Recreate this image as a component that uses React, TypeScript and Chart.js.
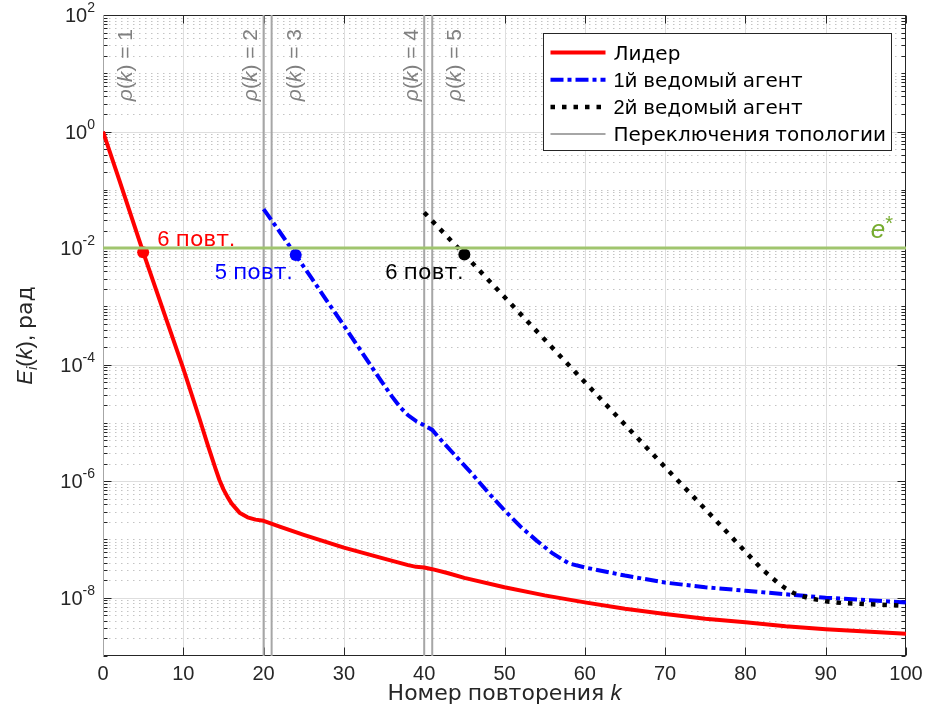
import React, { useEffect, useRef } from "react";
import { Chart, registerables } from "chart.js";

Chart.register(...registerables);

// ---------------- data ----------------
const X_MIN = 0;
const X_MAX = 100;
const Y_MIN = 1e-9;
const Y_MAX = 1e2;
const E_STAR = 1e-2;

const X_TICKS = [0, 10, 20, 30, 40, 50, 60, 70, 80, 90, 100];
const Y_LABEL_EXP = [-8, -6, -4, -2, 0, 2];
const Y_DECADE_EXP = [-9, -8, -7, -6, -5, -4, -3, -2, -1, 0, 1, 2];

// Leader (log10 of E)
const LEADER_K = [0, 2, 5, 8, 10, 12, 13, 14, 14.5, 15, 15.5, 16, 17, 18, 19, 20, 22, 25, 30, 35, 38, 39, 40, 41, 43, 45, 50, 55, 60, 65, 70, 75, 80, 85, 90, 95, 100];
const LEADER_LOG10 = [0, -0.82, -2.07, -3.27, -4.07, -4.92, -5.36, -5.78, -5.98, -6.14, -6.27, -6.38, -6.54, -6.62, -6.66, -6.68, -6.78, -6.92, -7.14, -7.33, -7.44, -7.47, -7.48, -7.51, -7.58, -7.66, -7.82, -7.96, -8.08, -8.19, -8.28, -8.36, -8.42, -8.49, -8.54, -8.58, -8.62];

// 1st follower
const F1_K = [20, 22, 24, 26, 28, 30, 32, 34, 36, 37, 38, 39, 40, 41, 42, 44, 46, 48, 50, 52, 54, 56, 58, 60, 65, 70, 75, 80, 85, 90, 95, 100];
const F1_LOG10 = [-1.33, -1.72, -2.12, -2.52, -2.93, -3.33, -3.74, -4.15, -4.55, -4.73, -4.87, -4.97, -5.04, -5.12, -5.28, -5.58, -5.88, -6.2, -6.5, -6.78, -7.02, -7.24, -7.41, -7.48, -7.62, -7.74, -7.82, -7.88, -7.94, -8.0, -8.04, -8.08];

// 2nd follower
const F2_K = [40, 45, 50, 55, 60, 65, 70, 75, 80, 82, 84, 85, 86, 87, 88, 90, 92, 95, 100];
const F2_LOG10 = [-1.39, -2.11, -2.84, -3.57, -4.3, -5.03, -5.76, -6.48, -7.21, -7.5, -7.74, -7.84, -7.92, -7.97, -8.01, -8.06, -8.09, -8.11, -8.14];

// markers where e* is reached
const MARK_K = [5, 24, 45];
const MARK_LOG10 = [-2.07, -2.12, -2.11];
const MARK_TEXT = ["6 повт.", "5 повт.", "6 повт."];

// topology switches
const SWITCH_K = [0, 20, 21, 40, 41];
const SWITCH_RHO = ["1", "2", "3", "4", "5"];

const SERIES_LABELS = ["Лидер", "1й ведомый агент", "2й ведомый агент", "Переключения топологии"];
const X_TITLE = "Номер повторения";
const Y_TITLE_UNIT = ", рад";

// ---------------- styles ----------------
const LAT = "'Liberation Sans', Arial, Helvetica, sans-serif";
const CYR = "'DejaVu Sans', 'Liberation Sans', sans-serif";
const AX_COLOR = "#262626";
const RED = "#ff0000";
const BLUE = "#0000ff";
const BLACK = "#000000";
const GREEN_LINE = "#a0c56e";
const GREEN_TEXT = "#77ac30";
const SWITCH_LINE = "#a6a6a6";
const SWITCH_TEXT = "#808080";
const SWITCH_SIDE = [1, -1, 1, -1, 1];
const MARK_COLORS = [RED, BLUE, BLACK];

const W = 928;
const H = 719;

type Run = { t: string; font: string; dy?: number };

const isCyr = (s: string) => /[\u0400-\u04FF]/.test(s);
function runsFor(text: string, size: number, style = ""): Run[] {
  return text
    .split(/([\u0400-\u04FF]+)/)
    .filter((s) => s.length > 0)
    .map((s) => ({ t: s, font: `${style} ${size}px ${isCyr(s) ? CYR : LAT}`.trim() }));
}
function runsWidth(ctx: CanvasRenderingContext2D, runs: Run[]) {
  let w = 0;
  for (const r of runs) {
    ctx.font = r.font;
    w += ctx.measureText(r.t).width;
  }
  return w;
}
function drawRuns(ctx: CanvasRenderingContext2D, runs: Run[], x: number, y: number, align: string, color: string) {
  const w = runsWidth(ctx, runs);
  let cx = align === "left" ? x : align === "right" ? x - w : x - w / 2;
  ctx.textAlign = "left";
  ctx.textBaseline = "alphabetic";
  ctx.fillStyle = color;
  for (const r of runs) {
    ctx.font = r.font;
    ctx.fillText(r.t, cx, y + (r.dy || 0));
    cx += ctx.measureText(r.t).width;
  }
}
function hLine(ctx: CanvasRenderingContext2D, x0: number, x1: number, y: number) {
  ctx.beginPath();
  ctx.moveTo(x0, y);
  ctx.lineTo(x1, y);
  ctx.stroke();
}
function vLine(ctx: CanvasRenderingContext2D, x: number, y0: number, y1: number) {
  ctx.beginPath();
  ctx.moveTo(x, y0);
  ctx.lineTo(x, y1);
  ctx.stroke();
}

const toPts = (ks: number[], logs: number[]) => ks.map((k, i) => ({ x: k, y: Math.pow(10, logs[i]) }));

const matlabPlugin = {
  id: "matlabLook",
  beforeDraw(chart: any) {
    const { ctx, width, height } = chart;
    ctx.save();
    ctx.fillStyle = "#ffffff";
    ctx.fillRect(0, 0, width, height);
    ctx.restore();
  },
  beforeDatasetsDraw(chart: any) {
    const { ctx, chartArea: a, scales } = chart;
    const xs = scales.x;
    const ys = scales.y;
    ctx.save();
    ctx.lineWidth = 1;
    // minor grid (dotted)
    ctx.strokeStyle = "#c4c4c4";
    ctx.setLineDash([1.5, 4.5]);
    for (const e of Y_DECADE_EXP) {
      for (let m = 1; m <= 9; m++) {
        if (m === 1 && Y_LABEL_EXP.includes(e)) continue;
        const v = m * Math.pow(10, e);
        if (v <= Y_MIN || v >= Y_MAX) continue;
        const y = Math.round(ys.getPixelForValue(v)) + 0.5;
        hLine(ctx, a.left, a.right, y);
      }
    }
    // major grid
    ctx.setLineDash([]);
    ctx.strokeStyle = "#dedede";
    for (const e of Y_LABEL_EXP) {
      const v = Math.pow(10, e);
      if (v <= Y_MIN || v >= Y_MAX) continue;
      const y = Math.round(ys.getPixelForValue(v)) + 0.5;
      hLine(ctx, a.left, a.right, y);
    }
    for (const t of X_TICKS) {
      if (t <= X_MIN || t >= X_MAX) continue;
      const x = Math.round(xs.getPixelForValue(t)) + 0.5;
      vLine(ctx, x, a.top, a.bottom);
    }
    // axes box
    ctx.strokeStyle = AX_COLOR;
    ctx.strokeRect(Math.round(a.left) + 0.5, Math.round(a.top) + 0.5, Math.round(a.right - a.left) - 1, Math.round(a.bottom - a.top) - 1);
    // ticks
    const L = Math.round(a.left) + 0.5;
    const R = Math.round(a.right) - 0.5;
    const T = Math.round(a.top) + 0.5;
    const B = Math.round(a.bottom) - 0.5;
    for (const e of Y_DECADE_EXP) {
      for (let m = 1; m <= 9; m++) {
        const v = m * Math.pow(10, e);
        if (v < Y_MIN || v > Y_MAX) continue;
        const major = m === 1 && Y_LABEL_EXP.includes(e);
        const len = major ? 8 : 4;
        const y = Math.round(ys.getPixelForValue(v)) + 0.5;
        hLine(ctx, L, L + len, y);
        hLine(ctx, R - len, R, y);
      }
    }
    for (const t of X_TICKS) {
      const x = Math.round(xs.getPixelForValue(t)) + 0.5;
      vLine(ctx, x, B, B - 8);
      vLine(ctx, x, T, T + 8);
    }
    ctx.restore();
  },
  afterDatasetsDraw(chart: any) {
    const { ctx, chartArea: a, scales } = chart;
    const xs = scales.x;
    const ys = scales.y;
    ctx.save();

    // topology switch labels (rotated)
    SWITCH_K.forEach((k, i) => {
      const lx = xs.getPixelForValue(k);
      const bx = SWITCH_SIDE[i] > 0 ? lx + 29 : lx - 6.5;
      const runs: Run[] = [
        { t: "ρ", font: `italic 21px ${LAT}` },
        { t: "(", font: `21px ${LAT}` },
        { t: "k", font: `italic 21px ${LAT}` },
        { t: ") = " + SWITCH_RHO[i], font: `21px ${LAT}` },
      ];
      ctx.save();
      ctx.translate(bx, a.top + 14);
      ctx.rotate(-Math.PI / 2);
      drawRuns(ctx, runs, 0, 0, "right", SWITCH_TEXT);
      ctx.restore();
    });

    // e* label
    const gy = ys.getPixelForValue(E_STAR);
    drawRuns(
      ctx,
      [
        { t: "e", font: `italic 26px ${LAT}` },
        { t: "*", font: `20px ${LAT}`, dy: -8 },
      ],
      a.right - 13,
      gy - 10,
      "right",
      GREEN_TEXT
    );

    // marker labels
    MARK_K.forEach((k, i) => {
      const mx = xs.getPixelForValue(k);
      const my = ys.getPixelForValue(Math.pow(10, MARK_LOG10[i]));
      const runs = runsFor(MARK_TEXT[i], 22);
      if (i === 0) drawRuns(ctx, runs, mx + 14, my - 6, "left", MARK_COLORS[i]);
      else drawRuns(ctx, runs, mx - (i === 1 ? 3 : 1), my + 24, "right", MARK_COLORS[i]);
    });

    // x tick labels
    for (const t of X_TICKS) {
      const x = xs.getPixelForValue(t);
      drawRuns(ctx, [{ t: String(t), font: `20px ${LAT}` }], x, a.bottom + 24, "center", AX_COLOR);
    }
    // y tick labels
    for (const e of Y_LABEL_EXP) {
      const y = ys.getPixelForValue(Math.pow(10, e));
      drawRuns(
        ctx,
        [
          { t: "10", font: `20px ${LAT}` },
          { t: String(e), font: `14px ${LAT}`, dy: -10 },
        ],
        a.left - 8,
        y + 7,
        "right",
        AX_COLOR
      );
    }
    // x title
    drawRuns(
      ctx,
      [...runsFor(X_TITLE + " ", 22), { t: "k", font: `italic 22px ${LAT}` }],
      (a.left + a.right) / 2,
      a.bottom + 44,
      "center",
      AX_COLOR
    );
    // y title
    ctx.save();
    ctx.translate(a.left - 71, (a.top + a.bottom) / 2);
    ctx.rotate(-Math.PI / 2);
    drawRuns(
      ctx,
      [
        { t: "E", font: `italic 22px ${LAT}` },
        { t: "i", font: `italic 15px ${LAT}`, dy: 5 },
        { t: "(", font: `22px ${LAT}` },
        { t: "k", font: `italic 22px ${LAT}` },
        { t: ")", font: `22px ${LAT}` },
        ...runsFor(Y_TITLE_UNIT, 22),
      ],
      0,
      0,
      "center",
      AX_COLOR
    );
    ctx.restore();

    // legend
    const items = SERIES_LABELS.map((lab) => chart.data.datasets.find((d: any) => d.label === lab)).filter(Boolean);
    let maxW = 0;
    for (const d of items) maxW = Math.max(maxW, runsWidth(ctx, runsFor(d.label, 20)));
    const boxR = Math.round(a.right - 15) + 0.5;
    const boxL = Math.round(boxR - (70 + maxW + 6)) + 0.5;
    const boxT = Math.round(a.top + 18) + 0.5;
    const rowH = 27.2;
    const boxB = Math.round(boxT + 10 + rowH * items.length - 2) + 0.5;
    ctx.fillStyle = "#ffffff";
    ctx.fillRect(boxL, boxT, boxR - boxL, boxB - boxT);
    ctx.strokeStyle = AX_COLOR;
    ctx.lineWidth = 1;
    ctx.setLineDash([]);
    ctx.strokeRect(boxL, boxT, boxR - boxL, boxB - boxT);
    items.forEach((d: any, i: number) => {
      const cy = boxT + 19 + i * rowH;
      ctx.save();
      ctx.strokeStyle = d.borderColor;
      ctx.lineWidth = d.borderWidth;
      ctx.setLineDash(d.borderDash || []);
      ctx.lineCap = "butt";
      hLine(ctx, boxL + 7, boxL + 62, cy);
      ctx.restore();
      drawRuns(ctx, runsFor(d.label, 20), boxL + 70, cy + 7, "left", BLACK);
    });

    ctx.restore();
  },
};

export default function App() {
  const ref = useRef<HTMLCanvasElement | null>(null);

  useEffect(() => {
    if (!ref.current) return;
    const switchData: any[] = [];
    SWITCH_K.forEach((k) => {
      switchData.push({ x: k, y: Y_MIN }, { x: k, y: Y_MAX }, { x: k, y: null });
    });
    const base = { pointRadius: 0, pointHoverRadius: 0, fill: false, tension: 0 };
    const datasets: any[] = [
      { ...base, label: SERIES_LABELS[3], data: switchData, borderColor: SWITCH_LINE, borderWidth: 2, spanGaps: false, order: 6 },
      { ...base, label: SERIES_LABELS[0], data: toPts(LEADER_K, LEADER_LOG10), borderColor: RED, borderWidth: 4, borderJoinStyle: "round", order: 5 },
      { ...base, label: SERIES_LABELS[1], data: toPts(F1_K, F1_LOG10), borderColor: BLUE, borderWidth: 4, borderDash: [13, 4, 4, 4], order: 4 },
      { ...base, label: SERIES_LABELS[2], data: toPts(F2_K, F2_LOG10), borderColor: BLACK, borderWidth: 4.5, borderDash: [4.5, 7], order: 3 },
      ...MARK_K.map((k, i) => ({
        label: "marker" + i,
        data: [{ x: k, y: Math.pow(10, MARK_LOG10[i]) }],
        showLine: false,
        pointRadius: 6,
        pointHoverRadius: 6,
        pointBackgroundColor: MARK_COLORS[i],
        pointBorderWidth: 0,
        borderColor: MARK_COLORS[i],
        order: 2,
      })),
      { ...base, label: "e*", data: [{ x: X_MIN, y: E_STAR }, { x: X_MAX, y: E_STAR }], borderColor: GREEN_LINE, borderWidth: 3, order: 1 },
    ];

    const chart = new Chart(ref.current, {
      type: "line",
      data: { datasets },
      plugins: [matlabPlugin],
      options: {
        responsive: false,
        animation: false,
        events: [],
        layout: { padding: { top: 15, right: 22, left: 0, bottom: 0 } },
        plugins: { legend: { display: false }, tooltip: { enabled: false }, title: { display: false } },
        scales: {
          x: {
            type: "linear",
            min: X_MIN,
            max: X_MAX,
            grid: { display: false },
            border: { display: false },
            ticks: { display: false },
            afterFit: (s: any) => {
              s.height = 63;
            },
          },
          y: {
            type: "logarithmic",
            min: Y_MIN,
            max: Y_MAX,
            grid: { display: false },
            border: { display: false },
            ticks: { display: false },
            afterFit: (s: any) => {
              s.width = 103;
            },
          },
        },
      } as any,
    });
    return () => chart.destroy();
  }, []);

  return (
    <div style={{ position: "absolute", left: 0, top: 0, width: W, height: H }}>
      <canvas ref={ref} width={W} height={H} style={{ display: "block" }} />
    </div>
  );
}
